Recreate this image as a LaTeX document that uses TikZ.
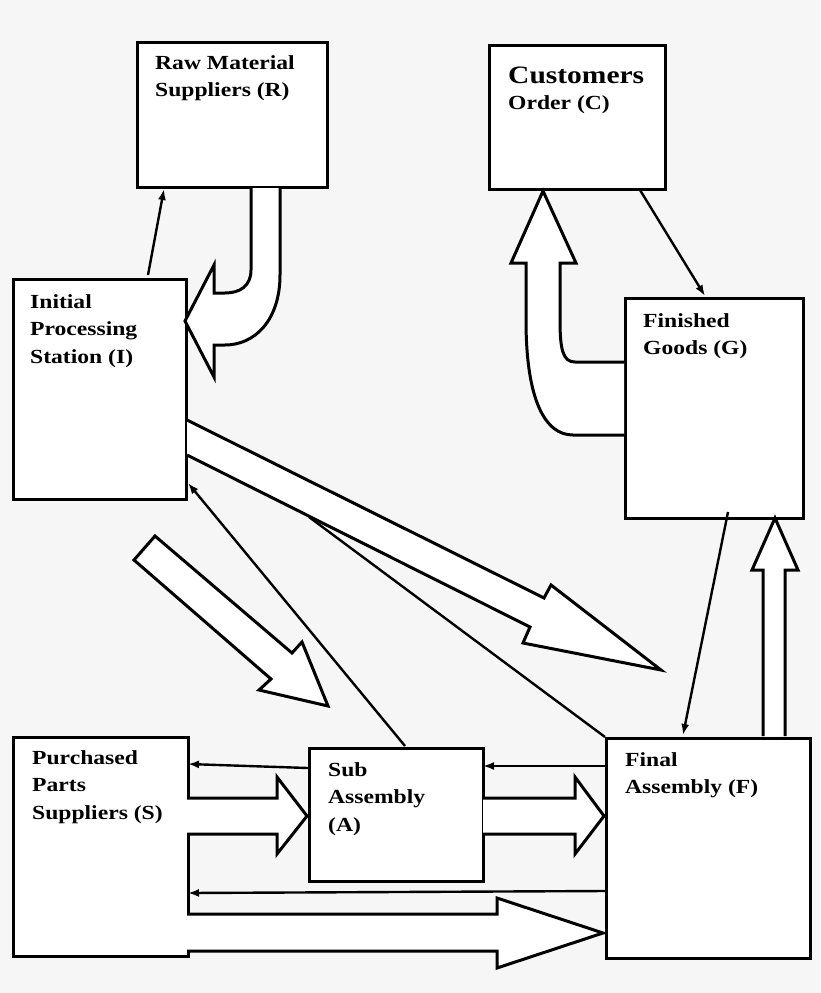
\documentclass[tikz,border=0pt]{standalone}
\usepackage{fontspec}
\setmainfont{Liberation Serif}[FakeStretch=1.18]
\usetikzlibrary{positioning,calc,arrows.meta}
\tikzset{
box/.style = {draw, fill=white, rectangle, line width=3pt, anchor=north west, inner sep=0pt},
txt/.style = {anchor=north west, align=left, font=\bfseries\fontsize{20}{27.5}\selectfont, inner sep=0pt},
fat/.style = {draw, fill=white, line width=3pt, line join=miter},
thin/.style = {-{Latex[length=11pt,width=8pt]}, line width=2.4pt}
}
\begin{document}
\begin{tikzpicture}[x=1pt, y=-1pt]
\fill[gray!7] (0,0) rectangle (820,993);
\useasboundingbox (0,0) rectangle (820,993);
% boxes
\node[box, minimum width=190, minimum height=145] (R) at (136,41) {};
\node[box, minimum width=176, minimum height=144] (C) at (488,44) {};
\node[box, minimum width=173, minimum height=220] (I) at (12,278) {};
\node[box, minimum width=178, minimum height=220] (G) at (624,297) {};
\node[box, minimum width=175, minimum height=219] (S) at (12,736) {};
\node[box, minimum width=174, minimum height=133] (A) at (308,747) {};
\node[box, minimum width=204, minimum height=220] (F) at (605,737) {};
% labels
\node[txt] (Rt) at (155,55) {Raw Material\\Suppliers (R)};
\node[txt] (Ct) at (508,95) {Order (C)};
\node[txt, font=\bfseries\fontsize{25}{30}\selectfont, anchor=south west] (Cc) at (508,84) {Customers};
\node[txt] (It) at (30,294) {Initial\\Processing\\Station (I)};
\node[txt] (Gt) at (643,313) {Finished\\Goods (G)};
\node[txt] (St) at (32,750) {Purchased\\Parts\\Suppliers (S)};
\node[txt] (At) at (328,762) {Sub\\Assembly\\(A)};
\node[txt] (Ft) at (625,752) {Final\\Assembly (F)};
% wide arrows
\draw[fat] (251,188) -- (251,270) .. controls (251,286) and (240,293) .. (225,293) -- (214,293) -- (214,265)
  -- (185,321) -- (214,377) -- (214,345) -- (225,345) .. controls (255,345) and (280,320) .. (280,275) -- (280,188);
\draw[fat] (624,362) -- (575,362) .. controls (563,362) and (560,350) .. (560,320) -- (560,263) -- (576,263)
  -- (543,191) -- (511,263) -- (526,263) -- (526,320) .. controls (526,400) and (545,435) .. (573,435) -- (624,435);
\draw[fat] (187,420) -- (544,598) -- (551,585) -- (661,670) -- (523,643) -- (530,627) -- (187,455);
\draw[fat] (155,536) -- (292,653) -- (302,642) -- (328,706) -- (259,690) -- (271,679) -- (134,560) -- cycle;
\draw[fat] (763,736) -- (763,570) -- (752,570) -- (775,518) -- (798,570) -- (785,570) -- (785,736);
\draw[fat] (187,798) -- (277,798) -- (277,777) -- (307,816) -- (277,854) -- (277,834) -- (187,834);
\draw[fat] (483,798) -- (575,798) -- (575,777) -- (604,816) -- (575,854) -- (575,834) -- (483,834);
\draw[fat] (187,914) -- (497,914) -- (497,898) -- (603,933) -- (497,968) -- (497,951) -- (187,951);
% thin connectors
\draw[thin] (148,275) -- (R.south west -| 164,0);
\draw[thin] (640,190) -- (705,296);
\draw[thin] (405,746) -- (188,483);
\draw[line width=2.4pt] (309,517) -- (F.north west);
\draw[thin] (728,512) -- (683,735);
\draw[thin] (308,768) -- (188,764);
\draw[thin] (605,766) -- (483,766);
\draw[thin] (605,891) -- (188,893);
\end{tikzpicture}
\end{document}
